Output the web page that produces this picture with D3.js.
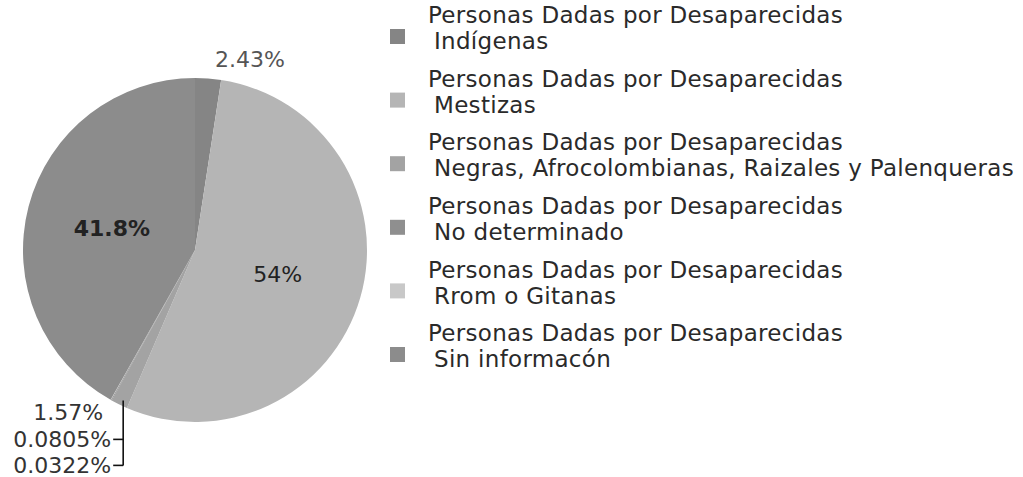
<!DOCTYPE html>
<html><head><meta charset="utf-8">
<script src="https://cdn.jsdelivr.net/npm/d3@7"></script>
<style>html,body{margin:0;padding:0;background:#fff;} svg{display:block}</style>
</head><body>
<svg id="chart" width="1023" height="477"></svg>
<script>
const seriesPrefix = "Personas Dadas por Desaparecidas";
const categories = ["Indígenas", "Mestizas", "Negras, Afrocolombianas, Raizales y Palenqueras", "No determinado", "Rrom o Gitanas", "Sin informacón"];
const values = [2.43, 54, 1.57, 0.0805, 0.0322, 41.8];
const valueLabels = ["2.43%", "54%", "1.57%", "0.0805%", "0.0322%", "41.8%"];
const colors = ["#858585", "#b5b5b5", "#a3a3a3", "#8f8f8f", "#c8c8c8", "#8c8c8c"];

const svg = d3.select("#chart");
svg.append("rect").attr("width", 1023).attr("height", 477).attr("fill", "#fff");
const font = "'DejaVu Sans', Verdana, sans-serif";

const cx = 195, cy = 250, R = 172;
const data = categories.map((c, i) => ({cat: c, value: values[i], label: valueLabels[i], color: colors[i], i}));
const pie = d3.pie().sort(null).value(d => d.value);
const arcs = pie(data);
const arc = d3.arc().innerRadius(0).outerRadius(R);
const g = svg.append("g").attr("transform", `translate(${cx},${cy})`);

g.selectAll("path.slice").data(arcs).join("path")
  .attr("class", "slice")
  .attr("d", arc)
  .attr("fill", d => d.data.color);

// inside labels for large slices
const inner = d3.arc().innerRadius(R * 0.5).outerRadius(R * 0.5);
g.selectAll("text.inlab").data(arcs.filter(d => d.data.value >= 10)).join("text")
  .attr("class", "inlab")
  .attr("transform", d => `translate(${inner.centroid(d)})`)
  .attr("text-anchor", "middle").attr("dy", "0.36em")
  .attr("font-family", font).attr("font-size", 22)
  .attr("font-weight", d => d.data.value > 50 ? "normal" : "bold")
  .attr("fill", "#222")
  .text(d => d.data.label);

// outside label for first small slice (top)
const small = arcs.filter(d => d.data.value < 10);
const topSmall = small.filter(d => (d.startAngle + d.endAngle) / 2 < Math.PI);
const outerArc = d3.arc().innerRadius(R + 10).outerRadius(R + 10);
g.selectAll("text.toplab").data(topSmall).join("text")
  .attr("class", "toplab")
  .attr("transform", d => { const p = outerArc.centroid(d); return `translate(${p[0] + 6},${p[1]})`; })
  .attr("text-anchor", "start").attr("dy", "-0.05em")
  .attr("font-family", font).attr("font-size", 22)
  .attr("fill", "#555")
  .text(d => d.data.label);

// bottom-left cluster with leader
const botSmall = small.filter(d => (d.startAngle + d.endAngle) / 2 >= Math.PI);
if (botSmall.length) {
  const edge = d3.arc().innerRadius(R).outerRadius(R);
  const p0 = edge.centroid(botSmall[0]);
  const lx = p0[0] + 4, ly0 = p0[1] - 4;
  const step = 26;
  const firstY = ly0 + 12;
  const ys = botSmall.map((d, k) => firstY + k * step + (k > 0 ? 1 : 0));
  g.append("line").attr("x1", lx).attr("x2", lx).attr("y1", ly0).attr("y2", ys[ys.length - 1])
    .attr("stroke", "#111").attr("stroke-width", 1.6);
  botSmall.forEach((d, k) => {
    if (k > 0) {
      g.append("line").attr("x1", lx - 10).attr("x2", lx).attr("y1", ys[k]).attr("y2", ys[k])
        .attr("stroke", "#111").attr("stroke-width", 1.6);
    }
    g.append("text")
      .attr("x", lx - (k > 0 ? 12 : 20)).attr("y", ys[k]).attr("dy", "0.36em")
      .attr("text-anchor", "end")
      .attr("font-family", font).attr("font-size", 22)
      .attr("fill", "#333")
      .text(d.data.label);
  });
}

// legend
const legX = 390, textX = 428, y0 = 15, itemStep = 63.6, lineGap = 26;
const leg = svg.append("g");
data.forEach((d, i) => {
  const yy = y0 + i * itemStep;
  leg.append("rect").attr("x", legX).attr("y", yy + 14).attr("width", 15).attr("height", 15)
    .attr("fill", d.color);
  leg.append("text").attr("x", textX).attr("y", yy).attr("dy", "0.36em")
    .attr("font-family", font).attr("font-size", 23).attr("letter-spacing", "0.3px").attr("fill", "#2a2a2a")
    .text(seriesPrefix);
  leg.append("text").attr("x", textX + 6).attr("y", yy + lineGap).attr("dy", "0.36em")
    .attr("font-family", font).attr("font-size", 23).attr("letter-spacing", "0.3px").attr("fill", "#2a2a2a")
    .text(d.cat);
});
</script>
</body></html>
